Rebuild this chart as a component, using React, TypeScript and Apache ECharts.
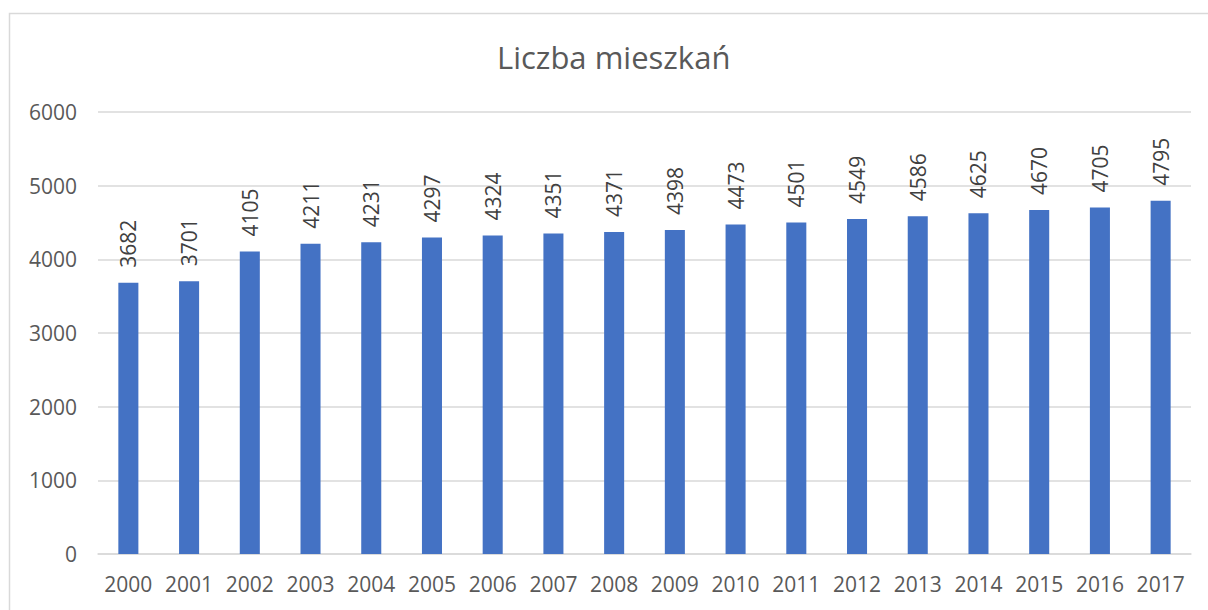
import React, { useEffect, useRef } from "react";
import * as echarts from "echarts";

const years = ["2000","2001","2002","2003","2004","2005","2006","2007","2008","2009","2010","2011","2012","2013","2014","2015","2016","2017"];
const residents = [3682,3701,4105,4211,4231,4297,4324,4351,4371,4398,4473,4501,4549,4586,4625,4670,4705,4795];
const title = "Liczba mieszkań";

export default function App() {
  const ref = useRef<HTMLDivElement>(null);
  useEffect(() => {
    const chart = echarts.init(ref.current!, null, { renderer: "svg" });
    const font = "'Open Sans', sans-serif";
    chart.setOption({
      animation: false,
      backgroundColor: "#ffffff",
      title: {
        text: title,
        left: 497,
        top: 41,
        padding: 0,
        textStyle: { fontFamily: font, fontSize: 31, fontWeight: "normal", color: "#595959" },
      },
      graphic: [
        {
          type: "rect",
          shape: { x: 9.5, y: 13.5, width: 1300, height: 700 },
          style: { fill: "none", stroke: "#d9d9d9", lineWidth: 1.5 },
          silent: true,
        },
      ],
      grid: { left: 98, right: 17, top: 112, bottom: 56 },
      xAxis: {
        type: "category",
        data: years,
        axisTick: { show: false },
        axisLine: { lineStyle: { color: "#d9d9d9", width: 1.5 } },
        axisLabel: { interval: 0, fontFamily: font, fontSize: 21, color: "#595959", margin: 19 },
      },
      yAxis: {
        type: "value",
        min: 0,
        max: 6000,
        interval: 1000,
        axisLabel: { fontFamily: font, fontSize: 21, color: "#595959", margin: 21, formatter: (v: number) => String(v) },
        splitLine: { lineStyle: { color: "#d9d9d9", width: 1.5 } },
        axisLine: { show: false },
        axisTick: { show: false },
      },
      series: [
        {
          type: "bar",
          data: residents,
          barWidth: "33%",
          itemStyle: { color: "#4472c4" },
          label: {
            show: true,
            position: "top",
            rotate: 90,
            align: "left",
            verticalAlign: "middle",
            distance: 15,
            fontFamily: font,
            fontSize: 21,
            color: "#404040",
          },
        },
      ],
    });
    return () => chart.dispose();
  }, []);
  return <div ref={ref} style={{ position: "fixed", left: 0, top: 0, width: 1208, height: 610 }} />;
}
